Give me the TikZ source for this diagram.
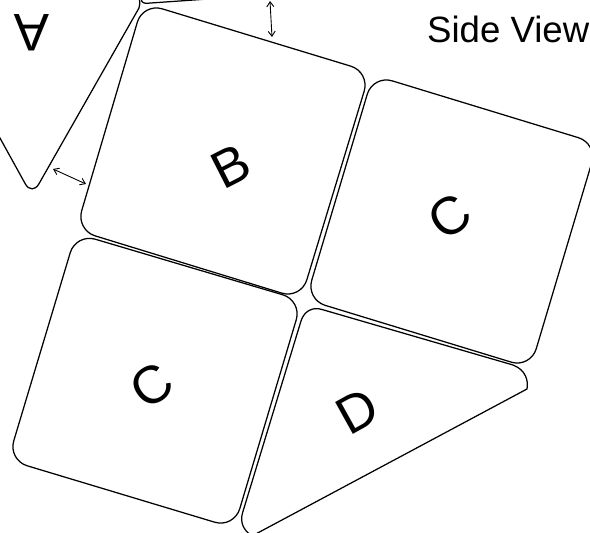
\documentclass[tikz,border=0pt]{standalone}
\usepackage{fontspec}
\setmainfont{Liberation Sans}
\usetikzlibrary{arrows.meta}
\tikzset{
  x=1pt,y=-1pt,
  panel/.style={draw=black,line width=1.25pt,rounded corners=20pt,line join=round},
  edge/.style={draw=black,line width=1.25pt},
  gap/.style={draw=black,line width=0.9pt,{Straight Barb[length=5pt,width=7pt]}-{Straight Barb[length=5pt,width=7pt]}},
  letter/.style={font=\fontsize{53}{53}\selectfont,inner sep=0pt},
  title/.style={font=\fontsize{36.6}{36.6}\selectfont,inner sep=0pt,anchor=base west}
}
\begin{document}
\begin{tikzpicture}
\useasboundingbox (0,0) rectangle (590,533);
\clip (0,0) rectangle (590,533);
% panels
\draw[panel] (143,3) -- (370,72) -- (301,299) -- (76,230) -- cycle;
\draw[panel] (373,75) -- (597.5,143.5) -- (530.5,368) -- (306,299.5) -- cycle;
\draw[panel] (76,233.5) -- (302,300.5) -- (234,528) -- (8,460) -- cycle;
% D
\draw[edge,line join=round] (527,389) .. controls (528.5,381) and (526,370) .. (513,365)
  -- (322,309.5) .. controls (312.7,306.5) and (304,311.2) .. (301,321)
  -- (242.5,513) .. controls (240,522) and (243,530) .. (252,536) -- cycle;
% A
\draw[edge,rounded corners=14pt] (-10,120) -- (32,196) -- (139,8);
\draw[edge] (139,8) .. controls (140,5) and (140,2) .. (139.5,-1);
\draw[edge] (141,-1) .. controls (142,3) and (144,3.5) .. (148,3.2) -- (208,-1);
% arrows
\coordinate (u1) at (270,1); \coordinate (u2) at (272,37);
\coordinate (v1) at (53,169); \coordinate (v2) at (86,184);
\draw[gap] (u1) -- (u2);
\draw[gap] (v1) -- (v2);
% text
\node[letter,rotate=180] (la) at (32,33) {A};
\node[letter,rotate=27] (lb) at (231,166) {B};
\node[letter,rotate=35] (lc1) at (450,217) {C};
\node[letter,rotate=35] (lc2) at (152,386) {C};
\node[letter,rotate=29] (ld) at (357,411) {D};
\node[title] (lt) at (427,42) {Side View};
\end{tikzpicture}
\end{document}
